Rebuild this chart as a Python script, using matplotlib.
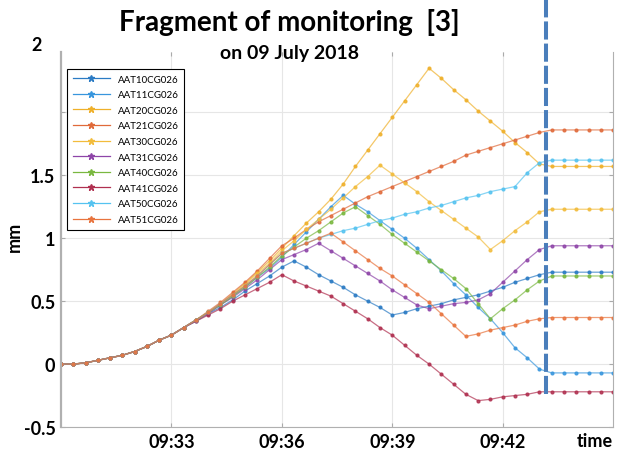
import numpy as np
import matplotlib
matplotlib.use("Agg")
import matplotlib.pyplot as plt
from matplotlib.lines import Line2D

# samples every 20 s, x in minutes after 09:30
minutes = np.arange(46) / 3.0

tick_minutes = [3, 6, 9, 12]
tick_labels = ["09:33", "09:36", "09:39", "09:42"]

event_minute = 13.18  # dashed marker (~09:43:11)

# common start of every curve (09:30:00 .. 09:33:00)
start = [0.0, 0.0, 0.01, 0.03, 0.05, 0.07, 0.10, 0.14, 0.19, 0.23]

AAT10 = start + [0.29, 0.34, 0.40, 0.45, 0.51, 0.58, 0.64, 0.70, 0.77,
                 0.82, 0.77, 0.71, 0.66, 0.61, 0.55, 0.50, 0.45, 0.39,
                 0.41, 0.44, 0.46, 0.48, 0.51, 0.53, 0.55, 0.58, 0.61,
                 0.65, 0.68, 0.71, 0.73, 0.73, 0.73, 0.73, 0.73, 0.73]
AAT11 = start + [0.29, 0.35, 0.41, 0.47, 0.54, 0.61, 0.69, 0.76, 0.85,
                 0.95, 1.05, 1.15, 1.25, 1.34, 1.27, 1.21, 1.14, 1.07,
                 1.00, 0.92, 0.83, 0.74, 0.64, 0.55, 0.45, 0.36, 0.25,
                 0.13, 0.05, -0.04, -0.07, -0.07, -0.07, -0.07, -0.07, -0.07]
AAT20 = start + [0.29, 0.35, 0.41, 0.48, 0.56, 0.64, 0.73, 0.82, 0.92,
                 1.02, 1.12, 1.21, 1.31, 1.43, 1.57, 1.70, 1.83, 1.96,
                 2.09, 2.22, 2.35, 2.27, 2.18, 2.10, 2.01, 1.93, 1.85,
                 1.76, 1.68, 1.59, 1.57, 1.57, 1.57, 1.57, 1.57, 1.57]
AAT21 = start + [0.29, 0.35, 0.42, 0.49, 0.57, 0.65, 0.74, 0.84, 0.94,
                 1.00, 1.07, 1.13, 1.18, 1.23, 1.28, 1.33, 1.37, 1.41,
                 1.45, 1.49, 1.53, 1.57, 1.61, 1.66, 1.69, 1.72, 1.75,
                 1.78, 1.81, 1.84, 1.86, 1.86, 1.86, 1.86, 1.86, 1.86]
AAT30 = start + [0.29, 0.35, 0.41, 0.48, 0.55, 0.63, 0.72, 0.80, 0.90,
                 0.98, 1.07, 1.15, 1.23, 1.32, 1.41, 1.49, 1.58, 1.51,
                 1.44, 1.37, 1.29, 1.22, 1.15, 1.08, 1.01, 0.91, 0.98,
                 1.06, 1.13, 1.21, 1.23, 1.23, 1.23, 1.23, 1.23, 1.23]
AAT31 = start + [0.29, 0.35, 0.40, 0.47, 0.53, 0.60, 0.67, 0.75, 0.83,
                 0.87, 0.91, 0.96, 0.90, 0.84, 0.78, 0.72, 0.66, 0.59,
                 0.53, 0.47, 0.44, 0.46, 0.48, 0.49, 0.51, 0.56, 0.65,
                 0.74, 0.83, 0.91, 0.94, 0.94, 0.94, 0.94, 0.94, 0.94]
AAT40 = start + [0.29, 0.35, 0.41, 0.47, 0.54, 0.61, 0.69, 0.77, 0.86,
                 0.93, 1.00, 1.06, 1.13, 1.20, 1.25, 1.18, 1.11, 1.03,
                 0.96, 0.89, 0.82, 0.75, 0.68, 0.60, 0.48, 0.36, 0.44,
                 0.51, 0.59, 0.66, 0.70, 0.70, 0.70, 0.70, 0.70, 0.70]
AAT41 = start + [0.29, 0.34, 0.39, 0.44, 0.50, 0.55, 0.60, 0.65, 0.71,
                 0.66, 0.62, 0.58, 0.54, 0.48, 0.42, 0.36, 0.29, 0.23,
                 0.15, 0.07, 0.00, -0.08, -0.16, -0.24, -0.29, -0.28, -0.26,
                 -0.25, -0.24, -0.22, -0.22, -0.22, -0.22, -0.22, -0.22, -0.22]
AAT50 = start + [0.29, 0.35, 0.41, 0.48, 0.55, 0.62, 0.70, 0.79, 0.88,
                 0.92, 0.96, 1.00, 1.03, 1.06, 1.08, 1.11, 1.14, 1.16,
                 1.19, 1.21, 1.24, 1.26, 1.29, 1.32, 1.34, 1.37, 1.39,
                 1.41, 1.52, 1.60, 1.62, 1.62, 1.62, 1.62, 1.62, 1.62]
AAT51 = start + [0.29, 0.35, 0.41, 0.48, 0.55, 0.62, 0.70, 0.79, 0.88,
                 0.92, 0.96, 1.00, 1.04, 0.97, 0.90, 0.83, 0.76, 0.70,
                 0.63, 0.56, 0.49, 0.40, 0.31, 0.22, 0.24, 0.27, 0.29,
                 0.31, 0.34, 0.36, 0.37, 0.37, 0.37, 0.37, 0.37, 0.37]

series = [
    ("AAT10CG026", AAT10, "#2b7bc4"),
    ("AAT11CG026", AAT11, "#3896dd"),
    ("AAT20CG026", AAT20, "#efb02a"),
    ("AAT21CG026", AAT21, "#e06a3a"),
    ("AAT30CG026", AAT30, "#f2bc3c"),
    ("AAT31CG026", AAT31, "#8e45a8"),
    ("AAT40CG026", AAT40, "#7ab840"),
    ("AAT41CG026", AAT41, "#b03050"),
    ("AAT50CG026", AAT50, "#55c3f0"),
    ("AAT51CG026", AAT51, "#e8743e"),
]

plt.rcParams["font.family"] = ["Lato", "DejaVu Sans"]

fig = plt.figure(figsize=(6.19, 4.52), dpi=100)
ax = fig.add_axes([0.0985, 0.053, 0.892, 0.830])

for name, vals, col in series:
    ax.plot(minutes, vals, "-", color=col, lw=0.9, alpha=0.7)
    ax.plot(minutes, vals, ".", color=col, ms=4, alpha=0.85)

# dashed event marker, runs up past the axes
ax.plot([event_minute, event_minute], [-0.24, 2.95], color="#4a7ebb",
        lw=2.9, dashes=(4.5, 1.0), clip_on=False, zorder=5)

ax.set_xlim(0, 15)
ax.set_ylim(-0.5, 2.48)
ax.set_xticks(tick_minutes)
ax.set_xticklabels(tick_labels, fontweight="bold", fontsize=13)
ax.set_yticks([-0.5, 0, 0.5, 1, 1.5, 2])
ax.set_yticklabels(["-0.5", "0", "0.5", "1", "1.5", ""], fontweight="bold", fontsize=13)
ax.text(-0.035, 1.02, "2", transform=ax.transAxes, ha="right", va="center",
        fontweight="bold", fontsize=13)
ax.tick_params(direction="in", length=3, color="#aaaaaa", top=True, right=True, pad=4)
ax.grid(True, color="#e6e6e6", lw=0.8)
ax.set_axisbelow(True)
for side in ["left", "bottom", "right"]:
    ax.spines[side].set_color("#b0b0b0")
ax.spines["left"].set_linewidth(1.6)
ax.spines["top"].set_visible(False)

ax.text(0.935, -0.013, "time", transform=ax.transAxes, ha="left", va="top",
        fontweight="bold", fontsize=13, clip_on=False)
fig.text(0.024, 0.475, "mm", rotation=90, ha="center", va="center",
         fontweight="bold", fontsize=13)

fig.text(0.468, 0.950, "Fragment of monitoring  [3]", ha="center", va="center",
         fontweight="bold", fontsize=20)
fig.text(0.468, 0.882, "on 09 July 2018", ha="center", va="center",
         fontweight="bold", fontsize=14)

handles = [Line2D([0], [0], color=col, lw=0.9, marker="*", ms=5)
           for name, vals, col in series]
leg = ax.legend(handles, [s[0] for s in series], loc="upper left",
                bbox_to_anchor=(0.011, 0.955), borderaxespad=0, fontsize=7,
                fancybox=False, edgecolor="black", framealpha=1,
                handlelength=3.8, labelspacing=0.68, borderpad=0.6)
leg.get_frame().set_linewidth(0.8)

fig.savefig("out.png", dpi=100)
